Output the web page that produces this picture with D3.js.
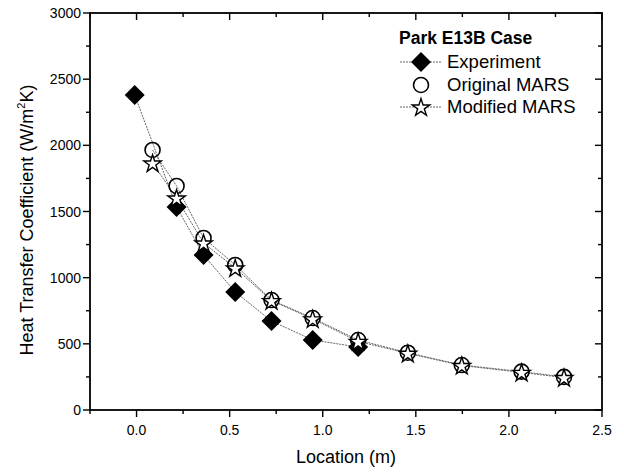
<!DOCTYPE html>
<html><head><meta charset="utf-8">
<script src="https://cdn.jsdelivr.net/npm/d3@7"></script>
<style>body{margin:0;background:#fff}svg{display:block}text{font-family:Arial,"Liberation Sans",sans-serif}</style>
</head><body>
<script>
const expX = [-0.01, 0.215, 0.36, 0.53, 0.725, 0.946, 1.19];
const expY = [2380, 1534, 1171, 892, 672, 529, 476];
const origX = [0.086, 0.215, 0.36, 0.53, 0.725, 0.946, 1.19, 1.457, 1.747, 2.068, 2.296];
const origY = [1965, 1693, 1300, 1096, 831, 695, 529, 433, 340, 290, 250];
const modX = [0.086, 0.215, 0.36, 0.53, 0.725, 0.946, 1.19, 1.457, 1.747, 2.068, 2.296];
const modY = [1866, 1602, 1262, 1073, 826, 688, 518, 428, 336, 284, 245];
const xTicks = [0.0, 0.5, 1.0, 1.5, 2.0, 2.5];
const yTicks = [0, 500, 1000, 1500, 2000, 2500, 3000];
const legendLabels = ["Experiment", "Original MARS", "Modified MARS"];

const W = 624, H = 472;
const m = {l: 90, r: 602, t: 13, b: 410};
const svg = d3.select("body").append("svg").attr("width", W).attr("height", H);
const x = d3.scaleLinear().domain([-0.25, 2.5]).range([m.l, m.r]);
const y = d3.scaleLinear().domain([0, 3000]).range([m.b, m.t]);

const g = svg.append("g");
const line = d3.line().x(d => x(d[0])).y(d => y(d[1]));
const series = [
  {xs: expX, ys: expY, sym: "diamond"},
  {xs: origX, ys: origY, sym: "circle"},
  {xs: modX, ys: modY, sym: "star"}
];
series.forEach(s => {
  const pts = s.xs.map((v, i) => [v, s.ys[i]]);
  g.append("path").attr("d", line(pts)).attr("fill", "none")
    .attr("stroke", "#666").attr("stroke-width", 1).attr("stroke-dasharray", "2,1");
});

function drawSym(sel, sym, cx, cy) {
  if (sym === "diamond") {
    sel.append("path").attr("d", d3.symbol(d3.symbolSquare, 200)())
      .attr("transform", `translate(${cx},${cy}) rotate(45)`)
      .attr("fill", "#000");
  } else if (sym === "circle") {
    sel.append("circle").attr("cx", cx).attr("cy", cy).attr("r", 7.5)
      .attr("fill", "none").attr("stroke", "#000").attr("stroke-width", 1.6);
  } else {
    sel.append("path").attr("d", d3.symbol(d3.symbolStar, 95)())
      .attr("transform", `translate(${cx},${cy+0.8})`)
      .attr("fill", "#fff").attr("stroke", "#000").attr("stroke-width", 1.4);
  }
}
series.forEach(s => {
  s.xs.forEach((v, i) => drawSym(g, s.sym, x(v), y(s.ys[i])));
});

const ax = svg.append("g").attr("stroke", "#000").attr("fill", "none");
ax.append("rect").attr("x", m.l).attr("y", m.t).attr("width", m.r - m.l).attr("height", m.b - m.t)
  .attr("stroke-width", 1.8);
const xMinor = d3.range(-0.25, 2.51, 0.25);
const yMinor = d3.range(0, 3001, 250);
xMinor.forEach(v => {
  const major = Math.abs(Math.round(v * 2) - v * 2) < 1e-6;
  const len = major ? 7 : 4;
  ax.append("line").attr("x1", x(v)).attr("x2", x(v)).attr("y1", m.b).attr("y2", m.b + len).attr("stroke-width", 1.4);
  ax.append("line").attr("x1", x(v)).attr("x2", x(v)).attr("y1", m.t).attr("y2", m.t + len).attr("stroke-width", 1.4);
});
yMinor.forEach(v => {
  const major = v % 500 === 0;
  const len = major ? 7 : 4;
  ax.append("line").attr("y1", y(v)).attr("y2", y(v)).attr("x1", m.l).attr("x2", m.l - len).attr("stroke-width", 1.4);
  ax.append("line").attr("y1", y(v)).attr("y2", y(v)).attr("x1", m.r).attr("x2", m.r - len).attr("stroke-width", 1.4);
});
const tl = svg.append("g").attr("font-size", 14).attr("fill", "#000");
xTicks.forEach(v => tl.append("text").attr("x", x(v)).attr("y", m.b + 25).attr("text-anchor", "middle").text(d3.format(".1f")(v)));
yTicks.forEach(v => tl.append("text").attr("x", m.l - 9).attr("y", y(v) + 5).attr("text-anchor", "end").text(v));

svg.append("text").attr("x", 346).attr("y", 463).attr("text-anchor", "middle")
  .attr("font-size", 18).text("Location (m)");
const yl = svg.append("text").attr("transform", `translate(33,220) rotate(-90)`)
  .attr("text-anchor", "middle").attr("font-size", 18);
yl.append("tspan").text("Heat Transfer Coefficient (W/m");
yl.append("tspan").attr("dy", -8).attr("font-size", 11).text("2");
yl.append("tspan").attr("dy", 8).text("K)");

const lg = svg.append("g");
lg.append("text").attr("x", 399).attr("y", 44).attr("font-size", 17.5).attr("font-weight", "bold").text("Park E13B Case");
const rows = [62, 85, 107];
legendLabels.forEach((lab, i) => {
  if (i !== 1) lg.append("line").attr("x1", 400).attr("x2", 442).attr("y1", rows[i]).attr("y2", rows[i])
    .attr("stroke", "#666").attr("stroke-width", 1).attr("stroke-dasharray", "2,1");
  drawSym(lg, series[i].sym, 421, rows[i]);
  lg.append("text").attr("x", 447).attr("y", rows[i] + 6).attr("font-size", 18.5).text(lab);
});
</script>
</body></html>
